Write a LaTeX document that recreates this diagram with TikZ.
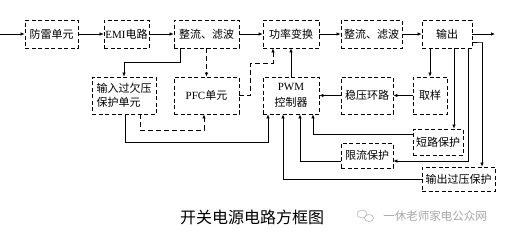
\documentclass[tikz,border=0pt]{standalone}
\usepackage{fontspec}
\setmainfont{Liberation Serif}
\newfontfamily\cjk{Noto Sans CJK SC}
\usetikzlibrary{arrows.meta}
\begin{document}
\begin{tikzpicture}[x=1pt,y=-1pt,
  blk/.style={draw, line width=0.75pt, dash pattern=on 4pt off 2.5pt, inner sep=0pt,
    font=\cjk\fontsize{11}{14}\selectfont, align=center},
  box/.style 2 args={blk, minimum width=#1pt, minimum height=#2pt},
  ln/.style={line width=0.7pt},
  arr/.style={ln, -{Latex[length=4pt,width=3.5pt]}},
  dsh/.style={dash pattern=on 5pt off 3pt}
]
\useasboundingbox (0,0) rectangle (505,236);
% top row
\node[box={53}{28}] (fl) at (51.5,34) {防雷单元};
\node[box={45}{28}] (emi) at (126.5,34) {{\rmfamily EMI}电路};
\node[box={65}{28}] (zl1) at (206.5,34) {整流、滤波};
\node[box={56}{28}] (gl) at (291,34) {功率变换};
\node[box={61}{28}] (zl2) at (371.5,34) {整流、滤波};
\node[box={50}{28}] (sc) at (447,34) {输出};
% second row
\node[box={64}{37}, align=left] (qy) at (124,95.5) {输入过欠压\\保护单元};
\node[box={65}{37}] (pfc) at (206.5,95.5) {{\rmfamily PFC}单元};
\node[box={56}{37}, font=\cjk\fontsize{11}{16}\selectfont] (pwm) at (291,95.5) {{\rmfamily PWM}\\控制器};
\node[box={52}{37}] (wy) at (367,95.5) {稳压环路};
\node[box={34}{37}] (cy) at (430,95.5) {取样};
% protection boxes
\node[box={50}{26}] (dl) at (438,142) {短路保护};
\node[box={52}{25}] (xl) at (367,155.5) {限流保护};
\node[box={73}{24}] (gy) at (458.5,179) {输出过压保护};
% title and watermark
\node[font=\cjk\fontsize{16}{19}\selectfont] (title) at (252,217) {开关电源电路方框图};
\node[font=\cjk\fontsize{11.5}{14}\selectfont, text=black!35] (wm) at (435,216) {一休老师家电公众网};
\draw[black!30, line width=0.6pt] (362,214) ellipse (5pt and 4pt);
\draw[black!30, line width=0.6pt, fill=white] (369,218) ellipse (4.5pt and 3.5pt);

\coordinate (in) at (0,34);
\coordinate (out) at (495,34);
% main chain
\draw[arr] (in) -- (fl.west);
\draw[arr] (fl.east) -- (emi.west);
\draw[arr] (emi.east) -- (zl1.west);
\draw[arr] (zl1.east) -- (gl.west);
\draw[arr] (gl.east) -- (zl2.west);
\draw[arr] (zl2.east) -- (sc.west);
\draw[arr] (sc.east) -- (out);
% rectifier to input protection and PFC
\draw[arr] ([xshift=-26.5pt]zl1.south) -- ++(0,14) -| (qy.north);
\draw[arr, dsh] (zl1.south) -- (pfc.north);
\draw[arr, dsh] (pfc.east) -- ++(11,0) -- ++(0,-32.5) -| ([xshift=-18pt]gl.south);
\draw[arr] (pwm.north) -- (gl.south);
\draw[arr, dsh] ([xshift=16pt]qy.south) -- ++(0,16) -| ([xshift=-2.5pt]pfc.south);
\draw[arr] ([xshift=1pt]qy.south) -- ++(0,28) -| ([xshift=-23pt]pwm.south);
% feedback
\draw[arr] (wy.west) -- (pwm.east);
\draw[arr] (cy.west) -- (wy.east);
\draw[arr] (cy.north |- sc.south) -- (cy.north);
\coordinate (d1) at ([xshift=16pt]dl.north);
\draw[arr] (d1 |- sc.south) -- (d1);
\coordinate (x1) at ([xshift=21pt]sc.south);
\coordinate (x2) at ([yshift=-5.5pt]xl.east);
\draw[arr] (x1) -- (x1 |- x2) -- (x2);
\draw[arr] ([yshift=-8pt]sc.east) -- ++(10,0) -| ([xshift=23.5pt]gy.north);
% protections to PWM
\draw[arr] ([yshift=7.5pt]dl.west) -| ([xshift=22pt]pwm.south);
\draw[arr] ([yshift=-5.5pt]xl.west) -| ([xshift=9pt]pwm.south);
\draw[arr] (gy.west) -| ([xshift=-8pt]pwm.south);
\end{tikzpicture}
\end{document}
